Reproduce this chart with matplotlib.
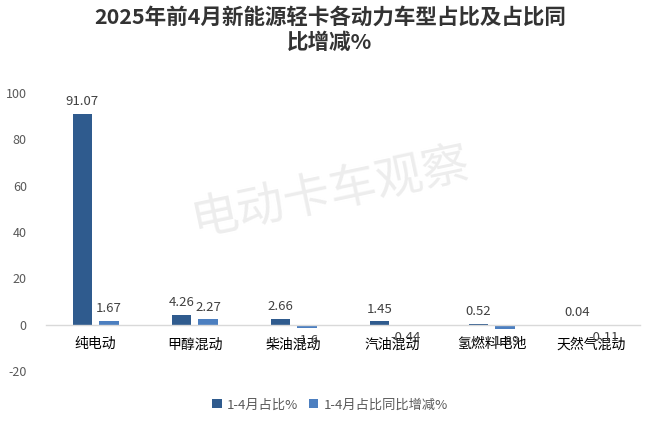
import matplotlib
matplotlib.use("Agg")
import matplotlib.pyplot as plt
import numpy as np

plt.rcParams['font.family'] = ['Noto Sans CJK SC', 'DejaVu Sans']

categories = ["纯电动", "甲醇混动", "柴油混动", "汽油混动", "氢燃料电池", "天然气混动"]
share = [91.07, 4.26, 2.66, 1.45, 0.52, 0.04]
change = [1.67, 2.27, -1.6, -0.44, -1.89, -0.11]
share_labels = ["91.07", "4.26", "2.66", "1.45", "0.52", "0.04"]
change_labels = ["1.67", "2.27", "-1.6", "-0.44", "-1.89", "-0.11"]
series_names = ["1-4月占比%", "1-4月占比同比增减%"]
yticks = [-20, 0, 20, 40, 60, 80, 100]

c1 = "#2F5B8E"
c2 = "#4C7FC0"

fig = plt.figure(figsize=(6.6, 4.29), dpi=100)
ax = fig.add_axes([0.07, 0.135, 0.90, 0.648])

x = np.arange(len(categories))
w = 0.195
off = 0.135
b1 = ax.bar(x - off, share, w, color=c1, label=series_names[0], zorder=2)
b2 = ax.bar(x + off, change, w, color=c2, label=series_names[1], zorder=2)

for xi, v, t in zip(x - off, share, share_labels):
    ax.annotate(t, (xi, v), xytext=(0, 4), textcoords="offset points",
                ha="center", va="bottom", fontsize=9.5, color="#404040")
for xi, v, t in zip(x + off, change, change_labels):
    if v >= 0:
        ax.annotate(t, (xi, v), xytext=(0, 4), textcoords="offset points",
                    ha="center", va="bottom", fontsize=9.5, color="#404040")
    else:
        ax.annotate(t, (xi, v), xytext=(0, -4), textcoords="offset points",
                    ha="center", va="top", fontsize=9.5, color="#404040")

ax.set_xlim(-0.5, len(categories) - 0.5)
ax.set_ylim(-20, 100)
ax.set_yticks(yticks)
ax.set_yticklabels([str(t) for t in yticks], fontsize=9, color="#595959")
ax.set_xticks(x)
ax.set_xticklabels(categories, fontsize=11, color="#595959")
ax.tick_params(axis='both', length=0)
ax.tick_params(axis='x', pad=9)
ax.tick_params(axis='y', pad=14)
for s in ["top", "right", "left"]:
    ax.spines[s].set_visible(False)
ax.spines["bottom"].set_position(("data", 0))
ax.spines["bottom"].set_color("#D9D9D9")
ax.spines["bottom"].set_linewidth(1)

fig.text(0.5, 0.985, "2025年前4月新能源轻卡各动力车型占比及占比同\n比增减%",
         ha="center", va="top", fontsize=15.5, fontweight="bold", color="#333333",
         linespacing=1.25)

fig.text(0.50, 0.55, "电动卡车观察", ha="center", va="center", fontsize=34,
         color="#EDEDED", rotation=12, zorder=0)

leg = fig.legend(handles=[b1, b2], labels=series_names, loc="center",
                 bbox_to_anchor=(0.5, 0.056), ncol=2, frameon=False,
                 fontsize=9.5, handlelength=0.7, handleheight=0.7,
                 handletextpad=0.4, columnspacing=0.8)
for t in leg.get_texts():
    t.set_color("#595959")

fig.savefig("out.png", dpi=100, facecolor="white")
